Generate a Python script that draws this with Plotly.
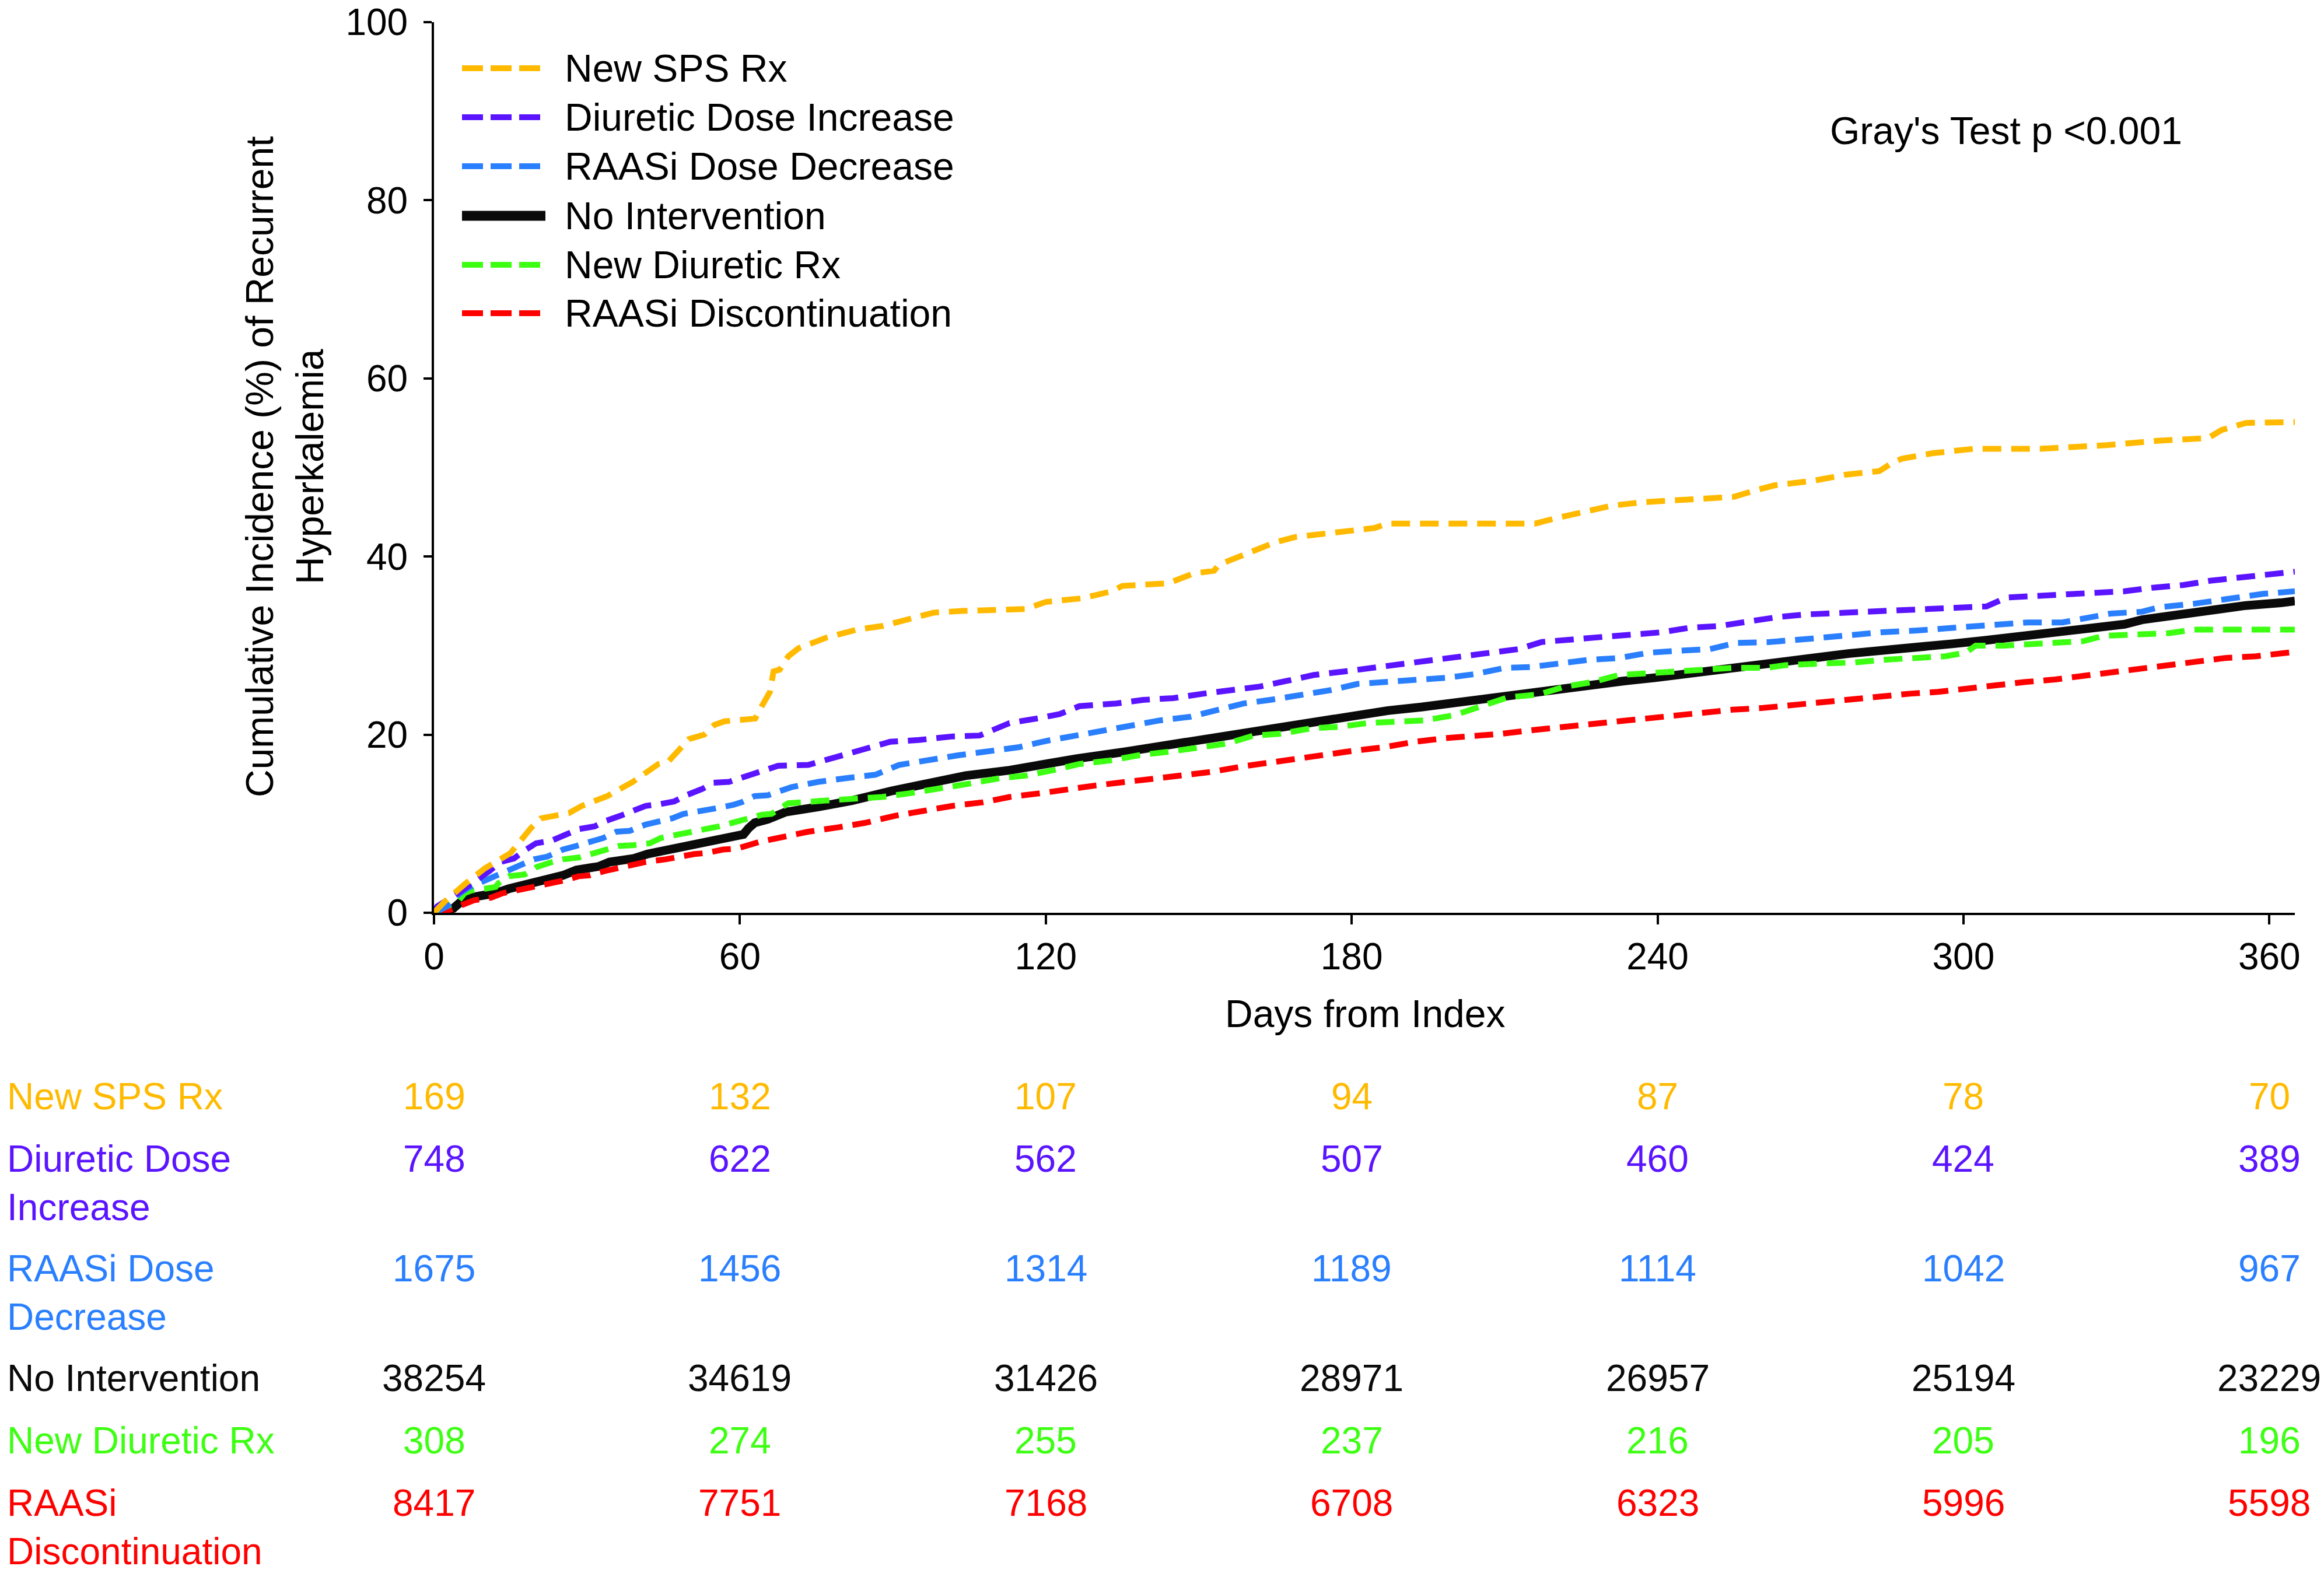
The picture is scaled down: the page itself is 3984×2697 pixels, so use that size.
import plotly.graph_objects as go

# ======================================
# Data
# ======================================

series_names = ["New SPS Rx", "Diuretic Dose Increase", "RAASi Dose Decrease",
                "No Intervention", "New Diuretic Rx", "RAASi Discontinuation"]
series_colors = ["#FFBA00", "#5A14FF", "#2A7FFF", "#0A0A0A", "#3CFF12", "#FF0000"]

sps_day = [0, 2, 6, 10, 15, 17, 19, 21, 24, 26.5, 29, 34, 39, 41, 44, 46, 48, 50, 53, 55,
           57, 63, 64.3, 65.9, 66.6, 67.8, 69.5, 71.5, 77, 83, 88, 93, 98, 104, 116, 120, 127, 133, 135, 144,
           149, 153, 154, 158, 163.5, 165, 169, 176, 182, 184.5, 187, 216, 220, 226, 231, 237, 243, 255, 259, 263,
           270.5, 277, 283.5, 286, 288, 294, 302, 315, 328, 338, 348, 350.6, 355.4, 365]
sps_pct = [0, 1.2, 3.2, 5.0, 6.7, 8.2, 9.5, 10.6, 10.9, 11.2, 12.0, 13.1, 14.7, 15.5, 16.7, 17.0, 18.2, 19.5, 20.0, 21.1,
           21.5, 21.8, 23.2, 24.8, 27.1, 27.3, 28.8, 29.7, 30.9, 31.8, 32.2, 32.9, 33.7, 33.9, 34.1, 34.9, 35.3, 36.1, 36.7, 37.0,
           38.1, 38.4, 39.1, 40.0, 41.2, 41.6, 42.2, 42.7, 43.0, 43.2, 43.7, 43.7, 44.3, 45.1, 45.7, 46.1, 46.3, 46.7, 47.4, 48.0,
           48.5, 49.2, 49.6, 50.5, 51.0, 51.6, 52.1, 52.1, 52.5, 53.0, 53.3, 54.2, 55.0, 55.1]

dd_day = [0, 0.6, 5, 8.7, 10.9, 13, 15.7, 17.8, 20, 23.1, 25.7, 28.4, 31.5, 33.6, 36.6, 39, 41.5, 44.3, 47.1, 49.5,
          52.6, 54.8, 57.9, 60.5, 63.4, 65.8, 67.5, 73.4, 78, 83.3, 87.9, 89.5, 95.1, 101.7, 107, 110.9, 112.9, 118.1, 122.7, 126.6,
          133.8, 139.1, 145, 150.9, 156.1, 162, 167, 172.6, 178.6, 183.8, 189.8, 195.6, 200.9, 206.8, 212.7, 217.3, 223.9, 229.8, 240.9, 246.2,
          252.1, 257.4, 263.5, 269.2, 280.7, 297.8, 304.5, 308.5, 318, 331.6, 337.1, 343.2, 348.6, 354.7, 360.8, 365]
dd_pct = [0, 0.7, 2.3, 3.7, 4.7, 5.7, 6.1, 7.0, 7.8, 8.1, 8.7, 9.4, 9.7, 10.3, 10.9, 11.4, 12.0, 12.2, 12.5, 13.2,
          13.9, 14.6, 14.7, 15.2, 15.8, 16.2, 16.5, 16.6, 17.3, 18.1, 18.8, 19.2, 19.4, 19.8, 19.9, 20.9, 21.3, 21.8, 22.3, 23.2,
          23.5, 23.9, 24.1, 24.6, 25.0, 25.4, 26.0, 26.7, 27.1, 27.5, 27.9, 28.4, 28.8, 29.3, 29.6, 30.4, 30.8, 31.0, 31.5, 32.0,
          32.2, 32.7, 33.2, 33.5, 33.8, 34.1, 34.4, 35.4, 35.7, 36.1, 36.5, 36.8, 37.3, 37.7, 38.0, 38.3]

rd_day = [0, 2.5, 5.1, 6.7, 9.5, 12.1, 15.7, 19.6, 22.2, 25.3, 27.9, 30.5, 33.2, 35.8, 38.4, 41.5, 43.7, 46.7, 48.9, 52.4,
          55, 58.6, 60.3, 62.9, 65.5, 70.1, 75.4, 80.6, 86.6, 91.2, 97.8, 103, 109.6, 114.8, 120.1, 126, 131.9, 136.5, 142.4, 148.3,
          152.9, 158.8, 164, 169.4, 175.9, 181.2, 187.1, 192.4, 198.9, 204.2, 210.1, 215.3, 221.2, 226.5, 232.4, 238.3, 243.5, 250.2, 255.4, 262,
          270.5, 277.4, 284.1, 290.9, 297.8, 305.9, 312.6, 319.4, 324.9, 328.9, 335, 338.4, 345.2, 352, 358.7, 365]
rd_pct = [0, 0.7, 2.2, 2.8, 3.5, 4.1, 5.1, 6.0, 6.3, 7.1, 7.5, 8.0, 8.4, 9.1, 9.2, 9.9, 10.2, 10.6, 11.1, 11.4,
          11.7, 12.1, 12.4, 13.1, 13.2, 14.1, 14.7, 15.1, 15.5, 16.6, 17.3, 17.7, 18.2, 18.6, 19.3, 19.9, 20.5, 21.1, 21.6, 22.0,
          22.7, 23.5, 23.9, 24.4, 25.0, 25.7, 25.9, 26.1, 26.4, 26.8, 27.5, 27.6, 28.1, 28.4, 28.6, 29.2, 29.4, 29.6, 30.3, 30.4,
          30.8, 31.2, 31.5, 31.7, 32.0, 32.3, 32.6, 32.6, 33.2, 33.6, 33.8, 34.3, 34.7, 35.3, 35.8, 36.1]

ni_day = [0, 3.8, 6, 9.1, 12.1, 14.7, 18.3, 20.9, 25.3, 27.9, 32.3, 34.4, 39.2, 41.9, 47.6, 51.6, 54.2, 58.6, 60.7, 61.7,
          62.9, 65.5, 68.9, 75.4, 82, 89.9, 96.4, 104.3, 112.9, 119.4, 126, 135.8, 142.4, 147.7, 152.9, 159.5, 166.1, 174, 180.5, 187.1,
          193.7, 200.2, 206.8, 213.3, 219.9, 226.5, 233, 239.6, 246.2, 252.8, 259.3, 264, 270.5, 277.4, 284.1, 290.9, 297.8, 304.5, 311.3, 318,
          324.9, 331.6, 335, 341.8, 348.6, 355.4, 362.2, 365]
ni_pct = [0, 0.5, 1.6, 1.8, 2.2, 2.7, 3.2, 3.8, 4.2, 4.8, 5.2, 5.7, 6.1, 6.6, 7.2, 7.6, 8.0, 8.5, 8.8, 9.5,
          10.1, 10.5, 11.3, 11.9, 12.6, 13.7, 14.5, 15.4, 16.0, 16.7, 17.3, 18.1, 18.7, 19.2, 19.8, 20.3, 21.0, 21.6, 22.2, 22.7,
          23.1, 23.6, 24.1, 24.6, 25.2, 25.6, 26.0, 26.4, 26.9, 27.5, 27.9, 28.1, 28.6, 29.1, 29.4, 29.7, 30.2, 30.6, 31.0, 31.4,
          31.9, 32.4, 32.9, 33.5, 34.0, 34.5, 34.8, 35.0]

nd_day = [0, 3, 4.9, 6, 7.3, 10, 12.1, 12.6, 14.7, 17.8, 20, 22.6, 25.3, 28.4, 31, 33.6, 36.3, 39.2, 42.3, 44.5,
          47.6, 49.8, 53.3, 55.9, 59, 61.2, 64.3, 66.2, 69.5, 76.8, 82, 87.9, 93.1, 99.1, 105, 110.9, 116.1, 121.4, 126.6, 132.6,
          138.4, 144.4, 150.3, 155.6, 160.8, 166.1, 172, 177.9, 183.1, 189.1, 194.3, 200.2, 205.4, 210.7, 216.6, 221.9, 227.2, 232.4, 238.3, 243.5,
          249.5, 254.7, 261.3, 265.1, 272.6, 278.7, 284.1, 290.9, 296.4, 300.4, 302.4, 307.9, 318, 323.5, 327.5, 335, 340.4, 345.2, 365]
nd_pct = [0, 0.9, 1.4, 2.2, 2.5, 2.7, 2.9, 3.3, 4.1, 4.3, 5.1, 5.6, 6.0, 6.2, 6.6, 7.0, 7.5, 7.6, 7.8, 8.4,
          8.7, 9.0, 9.4, 9.7, 10.2, 10.5, 11.0, 11.1, 12.3, 12.6, 12.8, 13.0, 13.4, 13.9, 14.5, 15.1, 15.4, 16.0, 16.7, 17.1,
          17.7, 18.1, 18.5, 19.0, 19.9, 20.1, 20.7, 20.9, 21.3, 21.5, 21.6, 22.2, 23.2, 24.2, 24.5, 25.4, 25.9, 26.7, 26.9, 27.1,
          27.4, 27.5, 27.5, 27.8, 28.0, 28.1, 28.4, 28.6, 28.8, 29.2, 30.0, 30.0, 30.3, 30.5, 31.1, 31.3, 31.4, 31.8, 31.8]

rx_day = [0, 3, 5.6, 7.8, 11.2, 13.5, 16.9, 19.6, 22.6, 25.3, 28.4, 30.5, 33.6, 35.8, 39.2, 41.5, 45.4, 47.1, 51.1, 53.3,
          56.7, 59.4, 61.7, 64.1, 67.5, 73.4, 79.4, 84.6, 90.5, 96.4, 101.7, 107.6, 112.9, 118.7, 124, 129.9, 135.8, 141.7, 147, 152.3,
          158.2, 163.2, 169.4, 175.2, 180.5, 186.5, 192.4, 198.2, 203.5, 209.4, 215.3, 220.5, 226.5, 232.4, 237.7, 243.5, 249.5, 254.7, 260.7, 265.8,
          271.9, 277.4, 284.1, 289.5, 295, 300.4, 305.9, 311.9, 318, 323.5, 328.9, 334.4, 339.7, 345.2, 351.3, 357.4, 362.9, 365]
rx_pct = [0, 0.3, 0.9, 1.4, 1.7, 2.2, 2.6, 2.9, 3.3, 3.6, 4.1, 4.2, 4.7, 5.0, 5.4, 5.7, 6.0, 6.2, 6.6, 6.7,
          7.1, 7.2, 7.6, 8.0, 8.4, 9.1, 9.6, 10.1, 10.9, 11.5, 12.0, 12.4, 13.0, 13.4, 13.9, 14.3, 14.7, 15.1, 15.4, 15.8,
          16.4, 16.8, 17.4, 17.9, 18.2, 18.6, 19.2, 19.6, 19.8, 20.1, 20.5, 20.8, 21.2, 21.5, 21.9, 22.2, 22.5, 22.8, 23.0, 23.3,
          23.7, 23.9, 24.3, 24.6, 24.8, 25.2, 25.6, 25.9, 26.2, 26.6, 26.9, 27.3, 27.8, 28.2, 28.6, 28.8, 29.2, 29.3]

# numbers at risk
risk_days = [0, 60, 120, 180, 240, 300, 360]
risk_sps = [169, 132, 107, 94, 87, 78, 70]
risk_dd = [748, 622, 562, 507, 460, 424, 389]
risk_rd = [1675, 1456, 1314, 1189, 1114, 1042, 967]
risk_ni = [38254, 34619, 31426, 28971, 26957, 25194, 23229]
risk_nd = [308, 274, 255, 237, 216, 205, 196]
risk_rx = [8417, 7751, 7168, 6708, 6323, 5996, 5598]
risk_labels = ["New SPS Rx", "Diuretic Dose<br>Increase", "RAASi Dose<br>Decrease",
               "No Intervention", "New Diuretic Rx", "RAASi<br>Discontinuation"]

curves = [(sps_day, sps_pct), (dd_day, dd_pct), (rd_day, rd_pct),
          (ni_day, ni_pct), (nd_day, nd_pct), (rx_day, rx_pct)]
risk_rows = [risk_sps, risk_dd, risk_rd, risk_ni, risk_nd, risk_rx]

# ======================================
# Layout helpers
# positions are measured on the 3984x2697 picture; the html page adds an
# 8px body margin, so the figure is made 8px smaller and moved up/left.
# ======================================
PAGE_MARGIN = 8
W, H = 3984 - PAGE_MARGIN, 2697 - PAGE_MARGIN
L, R, T, B = 744, 3934, 38, 1565
FONT = "Liberation Sans, Arial, sans-serif"


def px(x):
    return (x - L) / (R - L)


def py(y):
    return (B - y) / (B - T)


DASH = "32px,17px"

fig = go.Figure()

# black solid first, dashed curves drawn over it
draw_order = [3, 5, 4, 2, 1, 0]
for i in draw_order:
    d, p = curves[i]
    solid = series_names[i] == "No Intervention"
    fig.add_trace(go.Scatter(
        x=d, y=p, mode="lines", name=series_names[i],
        line=dict(color=series_colors[i], width=15 if solid else 10,
                  dash="solid" if solid else DASH),
        showlegend=False,
    ))

# ==========================
# Legend drawn by hand (long line samples)
# ==========================
legend_rows = [117, 201, 285, 370, 454, 537]
for i, name in enumerate(series_names):
    solid = name == "No Intervention"
    fig.add_shape(type="line", xref="paper", yref="paper",
                  x0=px(792), x1=px(935 if solid else 928),
                  y0=py(legend_rows[i]), y1=py(legend_rows[i]),
                  line=dict(color=series_colors[i], width=17 if solid else 10,
                            dash="solid" if solid else "36px,13px"))
    fig.add_annotation(text=name, xref="paper", yref="paper",
                       x=px(966), y=py(legend_rows[i]), xanchor="left", yanchor="middle",
                       showarrow=False, font=dict(size=66, color="black", family=FONT))

fig.add_annotation(text="Gray's Test p <0.001", xref="paper", yref="paper",
                   x=px(3439), y=py(224), xanchor="center", yanchor="middle",
                   showarrow=False, font=dict(size=66, color="black", family=FONT))

# axis titles
fig.add_annotation(text="Cumulative Incidence (%) of Recurrent<br>Hyperkalemia",
                   xref="paper", yref="paper", x=px(488), y=py(801),
                   xanchor="center", yanchor="middle", textangle=-90,
                   showarrow=False, font=dict(size=66, color="black", family=FONT))
fig.add_annotation(text="Days from Index", xref="paper", yref="paper",
                   x=px(2340), y=py(1738), xanchor="center", yanchor="middle",
                   showarrow=False, font=dict(size=66, color="black", family=FONT))

# ==========================
# Numbers at risk table
# ==========================
row_tops = [1885, 1992, 2180, 2368, 2475, 2582]
for i, lab in enumerate(risk_labels):
    top = row_tops[i] - 43
    fig.add_annotation(text=lab, xref="paper", yref="paper", x=px(10), y=py(top),
                       xanchor="left", yanchor="top", align="left", showarrow=False,
                       font=dict(size=64, color=series_colors[i], family=FONT))
    for d, n in zip(risk_days, risk_rows[i]):
        fig.add_annotation(text=str(n), xref="x", yref="paper", x=d, y=py(top),
                           xanchor="center", yanchor="top", showarrow=False,
                           font=dict(size=64, color=series_colors[i], family=FONT))

fig.update_xaxes(range=[0, 365], tickvals=[0, 60, 120, 180, 240, 300, 360],
                 ticks="outside", ticklen=16, tickwidth=4, tickcolor="black",
                 ticklabeloverflow="allow", automargin=False,
                 showline=True, linecolor="black", linewidth=4,
                 showgrid=False, zeroline=False,
                 tickfont=dict(size=64, color="black", family=FONT))
fig.update_yaxes(range=[0, 100], tickvals=[0, 20, 40, 60, 80, 100],
                 ticks="outside", ticklen=14, tickwidth=4, tickcolor="black",
                 ticklabelstandoff=14, ticklabeloverflow="allow", automargin=False,
                 showline=True, linecolor="black", linewidth=4,
                 showgrid=False, zeroline=False,
                 tickfont=dict(size=64, color="black", family=FONT))

fig.update_layout(
    width=W, height=H,
    margin=dict(l=L - PAGE_MARGIN, r=W - (R - PAGE_MARGIN),
                t=T - PAGE_MARGIN, b=H - (B - PAGE_MARGIN)),
    plot_bgcolor="white", paper_bgcolor="white",
    font=dict(family=FONT, color="black"),
)

fig.write_html("out.html")
